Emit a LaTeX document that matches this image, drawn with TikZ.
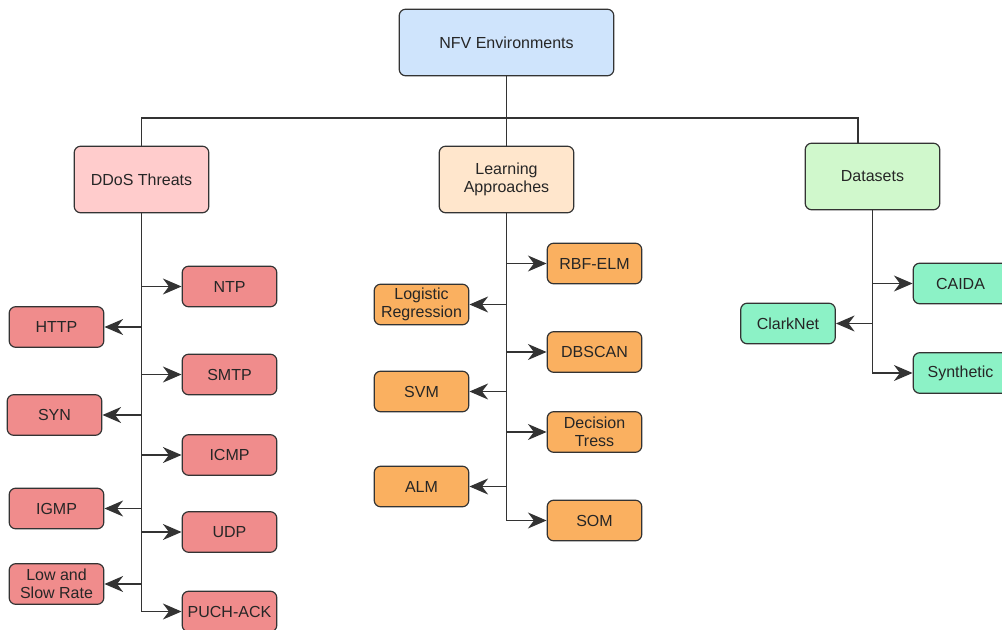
\documentclass[tikz,border=0pt]{standalone}
\usepackage{fontspec}
\setmainfont{Liberation Sans}
\usetikzlibrary{arrows.meta}

\definecolor{rootblue}{HTML}{CFE4FC}
\definecolor{ddospink}{HTML}{FFCCCC}
\definecolor{ddosred}{HTML}{F08C8C}
\definecolor{learnpeach}{HTML}{FFE6CC}
\definecolor{learnorange}{HTML}{FAB060}
\definecolor{datagreen}{HTML}{D0F8CC}
\definecolor{datamint}{HTML}{8CF2C6}
\definecolor{edge}{HTML}{333333}

\begin{document}
\begin{tikzpicture}[x=0.75pt, y=-0.75pt,
    >={Stealth[length=14pt, width=12pt, inset=4.5pt]},
    box/.style={draw=edge, line width=0.9pt, rounded corners=5pt, align=center,
        font=\fontsize{12}{13.5}\selectfont, text=black!85, inner sep=0pt},
    head/.style={box, minimum width=101pt, minimum height=50pt},
    leaf/.style={box, minimum width=71pt, minimum height=30.5pt},
    link/.style={draw=edge, line width=0.9pt},
    arr/.style={link, ->}]
    \useasboundingbox (0, 0) rectangle (1002, 630);

    % top level
    \node[box, fill=rootblue, minimum width=161pt, minimum height=50pt] (nfv) at (506.5, 42.5) {NFV Environments};
    \node[head, fill=ddospink] (ddos) at (141.5, 179.5) {DDoS Threats};
    \node[head, fill=learnpeach] (learn) at (506.5, 179.5) {Learning\\Approaches};
    \node[head, fill=datagreen] (data) at (872.5, 176.5) {Datasets};
    \coordinate (bus) at (506.5, 118);
    \coordinate (datain) at (858, 118);

    \draw[link] (nfv.south) -- (bus);
    \draw[link] (ddos.north) |- (bus) -- (datain) -- (datain |- data.north);
    \draw[link] (bus) -- (learn.north);

    % DDoS threats
    \node[leaf, fill=ddosred] (ntp) at (229.5, 286.5) {NTP};
    \node[leaf, fill=ddosred] (http) at (56.5, 327) {HTTP};
    \node[leaf, fill=ddosred] (smtp) at (229.5, 374.5) {SMTP};
    \node[leaf, fill=ddosred] (syn) at (54.5, 415) {SYN};
    \node[leaf, fill=ddosred] (icmp) at (229.5, 455) {ICMP};
    \node[leaf, fill=ddosred] (igmp) at (56.5, 508.5) {IGMP};
    \node[leaf, fill=ddosred] (udp) at (229.5, 532) {UDP};
    \node[leaf, fill=ddosred] (slow) at (56.5, 584) {Low and\\Slow Rate};
    \node[leaf, fill=ddosred] (puch) at (229.5, 611.5) {PUCH-ACK};
    \foreach \n in {ntp, http, smtp, syn, icmp, igmp, udp, slow, puch}
        \draw[arr] (ddos.south) |- (\n);

    % learning approaches
    \node[leaf, fill=learnorange] (rbf) at (594.5, 263.5) {RBF-ELM};
    \node[leaf, fill=learnorange] (logreg) at (421.5, 304.5) {Logistic\\Regression};
    \node[leaf, fill=learnorange] (dbscan) at (594.5, 352) {DBSCAN};
    \node[leaf, fill=learnorange] (svm) at (421.5, 391.5) {SVM};
    \node[leaf, fill=learnorange] (dtree) at (594.5, 432) {Decision\\Tress};
    \node[leaf, fill=learnorange] (alm) at (421.5, 486.5) {ALM};
    \node[leaf, fill=learnorange] (som) at (594.5, 520.5) {SOM};
    \foreach \n in {rbf, logreg, dbscan, svm, dtree, alm, som}
        \draw[arr] (learn.south) |- (\n);

    % datasets
    \node[leaf, fill=datamint] (caida) at (960.5, 283.5) {CAIDA};
    \node[leaf, fill=datamint] (clark) at (788, 323.5) {ClarkNet};
    \node[leaf, fill=datamint] (synth) at (960.5, 373) {Synthetic};
    \foreach \n in {caida, clark, synth}
        \draw[arr] (data.south) |- (\n);
\end{tikzpicture}
\end{document}
